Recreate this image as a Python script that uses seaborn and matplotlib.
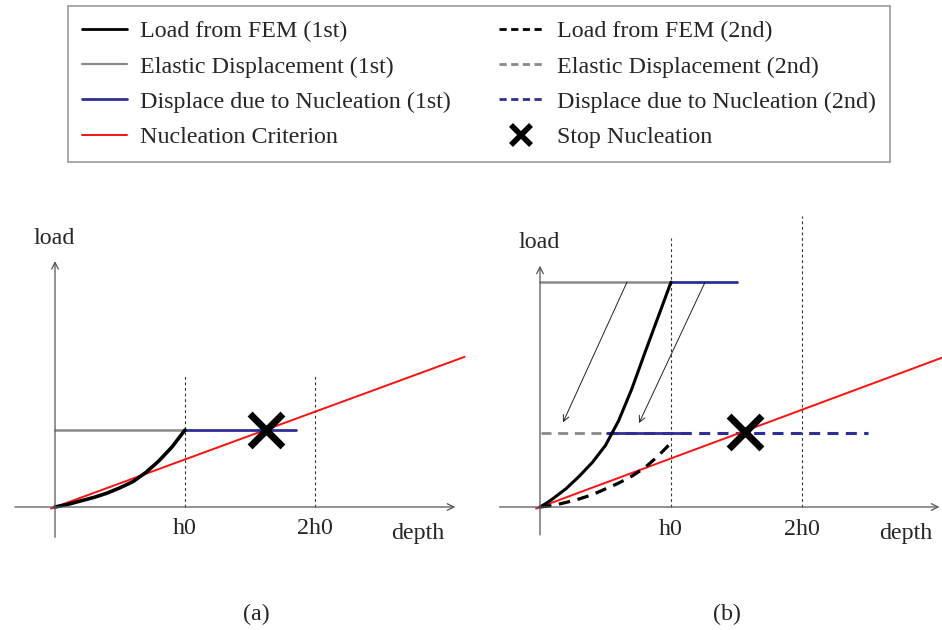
import matplotlib
matplotlib.use("Agg")
import matplotlib.pyplot as plt
from matplotlib.lines import Line2D
import seaborn as sns

# ---- data (depth in units of h0, load in arbitrary units) ----
# panel (a)
fem1_a_x = [0, 0.1, 0.2, 0.3, 0.4, 0.5, 0.6, 0.7, 0.8, 0.9, 1.0]
fem1_a_y = [0, 0.035, 0.08, 0.125, 0.18, 0.25, 0.33, 0.45, 0.60, 0.78, 1.0]
elastic1_a_x = [0, 1.0]
elastic1_a_y = [1.0, 1.0]
nucl1_a_x = [1.0, 1.85]
nucl1_a_y = [1.0, 1.0]
crit_a_x = [-0.03, 3.15]
crit_a_y = [-0.02, 1.95]
stop_a_x = [1.62]
stop_a_y = [1.0]

# panel (b)
fem1_b_x = [0, 0.05, 0.1, 0.2, 0.3, 0.4, 0.5, 0.6, 0.7, 0.8, 0.9, 1.0]
fem1_b_y = [0, 0.05, 0.11, 0.24, 0.40, 0.58, 0.80, 1.12, 1.53, 2.0, 2.46, 2.92]
fem2_b_x = [0, 0.1, 0.2, 0.3, 0.4, 0.5, 0.6, 0.7, 0.8, 0.9, 1.01]
fem2_b_y = [0, 0.02, 0.06, 0.105, 0.16, 0.235, 0.31, 0.40, 0.51, 0.66, 0.85]
elastic1_b_x = [0, 1.0]
elastic1_b_y = [2.92, 2.92]
nucl1_b_x = [1.0, 1.5]
nucl1_b_y = [2.92, 2.92]
elastic2_b_x = [0.01, 0.51]
elastic2_b_y = [0.96, 0.96]
nucl1_low_b_x = [0.51, 1.08]
nucl1_low_b_y = [0.96, 0.96]
nucl2_b_x = [0.51, 2.5]
nucl2_b_y = [0.96, 0.96]
crit_b_x = [-0.03, 3.07]
crit_b_y = [-0.02, 1.94]
stop_b_x = [1.565]
stop_b_y = [0.97]
# unloading arrows: (x_start, y_start, x_end, y_end)
shift_arrows_b = [(0.664, 2.92, 0.176, 1.10), (1.26, 2.92, 0.756, 1.09)]

# guides
tick_pos = [1, 2]
tick_labels = ["h0", "2h0"]
guide_top_a = [1.71, 1.71]
guide_top_b = [3.5, 3.78]

C_BLACK = "black"
C_GREY = "#8a8a8a"
C_BLUE = "#2e2e96"
C_RED = "#ff1010"
DASH = (0, (3.6, 2.4))
FS = 17.3

sns.set_theme(style="white")
plt.rcParams["font.family"] = ["Liberation Serif", "DejaVu Serif"]

fig = plt.figure(figsize=(9.42, 6.3), dpi=100)
ax_a = fig.add_axes([0, 1 - 560 / 630, 470 / 942, 360 / 630])
ax_b = fig.add_axes([470 / 942, 1 - 560 / 630, 472 / 942, 360 / 630])
ax_a.set_xlim(-55 / 130, 415 / 130)
ax_b.set_xlim(-70 / 131, 402 / 131)
for ax in (ax_a, ax_b):
    ax.set_ylim(-53 / 77, 307 / 77)
    ax.set_axis_off()


def line(ax, x, y, color, lw, ls="-"):
    sns.lineplot(x=x, y=y, ax=ax, color=color, linewidth=lw, linestyle=ls,
                 sort=False, estimator=None, legend=False,
                 solid_joinstyle="round", dash_joinstyle="round")


def axes_frame(ax, xr, yr, tops, label_y):
    arrow = dict(arrowstyle="->", color="#555555", lw=0.9, mutation_scale=12)
    ax.annotate("", xy=(xr[1], 0), xytext=(xr[0], 0), arrowprops=arrow)
    ax.annotate("", xy=(0, yr[1]), xytext=(0, yr[0]), arrowprops=arrow)
    for xp, top, lab in zip(tick_pos, tops, tick_labels):
        ax.plot([xp, xp], [0, top], color="#333333", lw=0.8,
                linestyle=(0, (2.5, 2.5)), clip_on=False)
        ax.text(xp, label_y, lab, ha="center", va="center", fontsize=FS)
    ax.text(-0.01, yr[1] + 0.26, "load", ha="center", va="center", fontsize=FS)
    ax.text(2.79, label_y - 0.06, "depth", ha="center", va="center", fontsize=FS)


# panel (a)
axes_frame(ax_a, (-0.33, 3.1), (-0.43, 3.23), guide_top_a, -0.28)
line(ax_a, elastic1_a_x, elastic1_a_y, C_GREY, 1.8)
line(ax_a, crit_a_x, crit_a_y, C_RED, 1.4)
line(ax_a, nucl1_a_x, nucl1_a_y, C_BLUE, 2.0)
line(ax_a, fem1_a_x, fem1_a_y, C_BLACK, 2.6)
sns.scatterplot(x=stop_a_x, y=stop_a_y, ax=ax_a, marker="x", s=560,
                linewidth=5, color=C_BLACK, zorder=5)
ax_a.text(1.55, -1.40, "(a)", ha="center", va="center", fontsize=FS)

# panel (b)
axes_frame(ax_b, (-0.33, 3.07), (-0.4, 3.17), guide_top_b, -0.29)
line(ax_b, elastic1_b_x, elastic1_b_y, C_GREY, 1.8)
line(ax_b, nucl1_b_x, nucl1_b_y, C_BLUE, 2.0)
line(ax_b, elastic2_b_x, elastic2_b_y, C_GREY, 2.0, DASH)
line(ax_b, nucl2_b_x, nucl2_b_y, C_BLUE, 2.2, DASH)
line(ax_b, nucl1_low_b_x, nucl1_low_b_y, C_BLUE, 2.0)
line(ax_b, crit_b_x, crit_b_y, C_RED, 1.4)
line(ax_b, fem2_b_x, fem2_b_y, C_BLACK, 2.3, DASH)
line(ax_b, fem1_b_x, fem1_b_y, C_BLACK, 2.2)
for x0, y0, x1, y1 in shift_arrows_b:
    ax_b.annotate("", xy=(x1, y1), xytext=(x0, y0),
                  arrowprops=dict(arrowstyle="->", color="#222222", lw=0.7,
                                  mutation_scale=11, shrinkA=0, shrinkB=0))
sns.scatterplot(x=stop_b_x, y=stop_b_y, ax=ax_b, marker="x", s=560,
                linewidth=5, color=C_BLACK, zorder=5)
ax_b.text(1.43, -1.40, "(b)", ha="center", va="center", fontsize=FS)

# legend
leg_dash = (0, (2.6, 1.6))
handles = [
    Line2D([], [], color=C_BLACK, lw=2.0),
    Line2D([], [], color=C_GREY, lw=1.6),
    Line2D([], [], color=C_BLUE, lw=2.0),
    Line2D([], [], color=C_RED, lw=1.4),
    Line2D([], [], color=C_BLACK, lw=2.0, linestyle=leg_dash),
    Line2D([], [], color=C_GREY, lw=2.0, linestyle=leg_dash),
    Line2D([], [], color=C_BLUE, lw=2.0, linestyle=leg_dash),
    Line2D([], [], color=C_BLACK, marker="x", linestyle="none",
           markersize=15, markeredgewidth=4),
]
labels = [
    "Load from FEM (1st)", "Elastic Displacement (1st)",
    "Displace due to Nucleation (1st)", "Nucleation Criterion",
    "Load from FEM (2nd)", "Elastic Displacement (2nd)",
    "Displace due to Nucleation (2nd)", "Stop Nucleation",
]
leg = fig.legend(handles, labels, ncol=2, loc="upper center",
                 bbox_to_anchor=(479 / 942, 1 - 6 / 630), fontsize=FS,
                 frameon=True, fancybox=False, edgecolor="#808080",
                 handlelength=1.85, handletextpad=0.55, columnspacing=2.0,
                 labelspacing=0.56, borderpad=0.6, borderaxespad=0)
leg.get_frame().set_linewidth(1.2)

fig.savefig("out.png", dpi=100)
